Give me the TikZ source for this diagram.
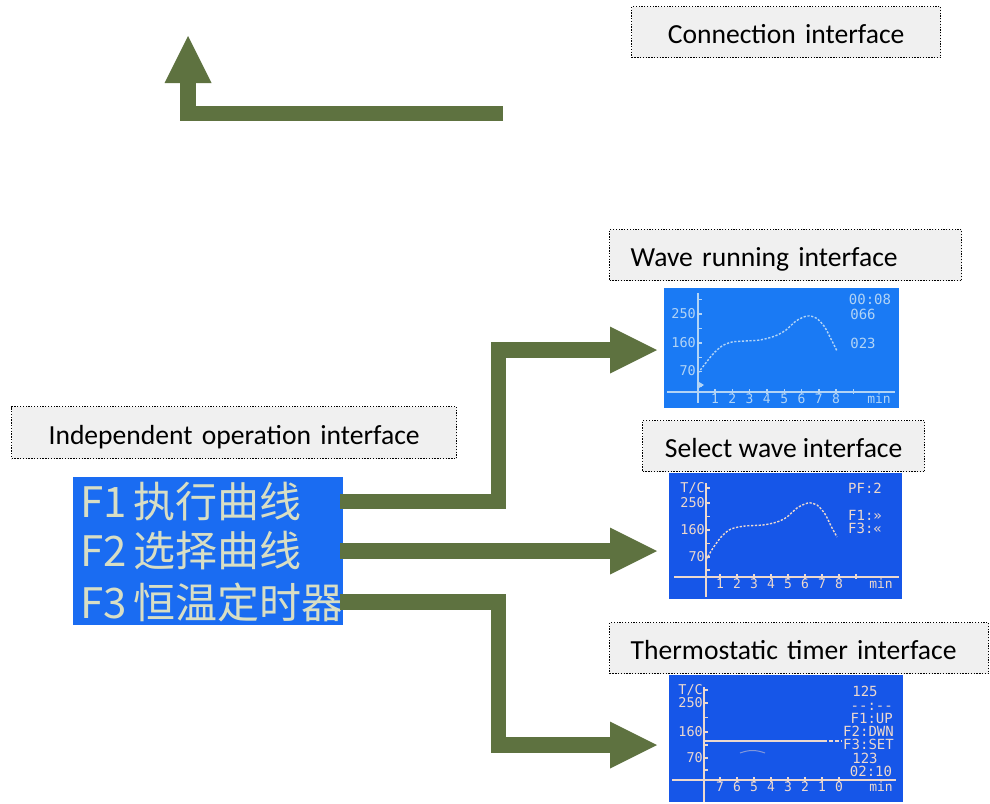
\documentclass[tikz,border=0pt]{standalone}
\usepackage{fontspec}
\setmainfont{Carlito}
\newfontfamily\lcdfont{DejaVu Sans Mono}
\newfontfamily\cjkfont{Noto Sans CJK SC}
\usetikzlibrary{arrows.meta,calc}
\definecolor{arrgreen}{RGB}{94,114,64}
\definecolor{boxgray}{RGB}{240,240,240}
\definecolor{lcdbgA}{RGB}{26,122,244}
\definecolor{lcdbgB}{RGB}{22,86,232}
\definecolor{lcdbgL}{RGB}{26,108,242}
\definecolor{lcdtxA}{RGB}{178,212,246}
\definecolor{lcdtxB}{RGB}{236,216,206}
\definecolor{lcdtxL}{RGB}{216,222,196}
\tikzset{
  tbox/.style={draw=black, line width=1.3pt, dash pattern=on 1.3pt off 1.5pt,
    fill=boxgray, font=\fontsize{27.6}{30}\selectfont, text height=23pt, text depth=0pt,
    inner ysep=0pt, inner xsep=21pt, anchor=north west},
  lcd/.style={draw=none, inner sep=0pt, anchor=north west},
  bigarrow/.style={draw=arrgreen, line width=15.5pt, line join=miter, line cap=butt,
    -{Triangle[width=47pt,length=47pt,line width=0pt]}},
  ax/.style={line width=1.4pt},
  curve/.style={line width=1.4pt, dash pattern=on 2.2pt off 1.6pt},
  ylab/.style={font=\lcdfont\fontsize{13.5}{14}\selectfont, anchor=east, inner sep=0pt, text height=9.5pt, text depth=0pt},
  xlab/.style={font=\lcdfont\fontsize{13}{13}\selectfont, inner sep=0pt, text height=9pt, text depth=0pt},
  rlab/.style={font=\lcdfont\fontsize{14}{14}\selectfont, inner sep=0pt, text height=10pt, text depth=0pt},
  cjkrow/.style={font=\cjkfont\fontsize{42}{44}\selectfont, text=lcdtxL, anchor=west, inner sep=0pt}
}
\begin{document}
\begin{tikzpicture}[x=1pt,y=-1pt]
\useasboundingbox (0,0) rectangle (990,803);

% ---------- text boxes ----------
\node[tbox, minimum height=51pt, text width=267pt, align=center] (conn) at (631,6) {Connection interface};
\node[tbox, minimum height=51pt, text width=310pt, align=left] (waveT) at (609,229) {Wave running interface};
\node[tbox, minimum height=51pt, minimum width=282pt, inner xsep=0pt] (selT) at (642,420) {Select wave interface};
\node[tbox, minimum height=51pt, text width=337pt, align=left] (thermT) at (609,622) {Thermostatic timer interface};
\node[tbox, minimum height=52pt, text width=403pt, align=center] (indT) at (11,406) {Independent operation interface};

% ---------- LCD screens ----------
\node[lcd, fill=lcdbgA, minimum width=235pt, minimum height=120pt] (lcdW) at (664,288) {};
\node[lcd, fill=lcdbgB, minimum width=233pt, minimum height=126pt] (lcdS) at (669,473) {};
\node[lcd, fill=lcdbgB, minimum width=234pt, minimum height=127pt] (lcdT) at (669,675) {};
\node[lcd, fill=lcdbgL, minimum width=270pt, minimum height=148pt] (lcdL) at (73,477) {};

% left LCD rows
\node[cjkrow] (f1) at (80,501.5) {F1\,执行曲线};
\node[cjkrow] (f2) at (80,551) {F2\,选择曲线};
\node[cjkrow] (f3) at (80,602) {F3\,恒温定时器};

% ---- wave running LCD ----
\draw[ax, lcdtxA] (698,293) -- (698,403) (667,392) -- (895,392);
\foreach \yy in {299.5,314,328.5,343,357.5,371.5,386} \draw[ax, lcdtxA] (698,\yy) -- (702,\yy);
\foreach \k in {1,...,9} \draw[ax, lcdtxA] ({697.7+17.3*\k},389) -- ++(0,5);
\foreach \k in {1,...,8} \node[xlab, text=lcdtxA] (wx\k) at ({697.7+17.3*\k},399) {\k};
\node[xlab, text=lcdtxA] (wmin) at (879,399) {min};
\node[ylab, text=lcdtxA] (w250) at (696,314) {250};
\node[ylab, text=lcdtxA] (w160) at (696,343) {160};
\node[ylab, text=lcdtxA] (w70) at (696,371) {70};
\node[rlab, text=lcdtxA] (wt) at (870,299) {00:08};
\node[rlab, text=lcdtxA] (wa) at (863,314) {066};
\node[rlab, text=lcdtxA] (wb) at (863,343) {023};
\fill[lcdtxA] (699,382) -- (704,385) -- (699,388) -- cycle;
\draw[curve, lcdtxA] plot[smooth] coordinates {(698,373) (705,364) (713,354) (722,346) (732,342) (745,341) (760,340) (775,336) (786,330) (796,321) (807,316) (816,318) (824,326) (830,337) (837,351)};

% ---- select wave LCD ----
\draw[ax, lcdtxB] (706,483) -- (706,597) (674,577) -- (899,577);
\foreach \yy in {488,503,516.5,530,543.5,557,570} \draw[ax, lcdtxB] (706,\yy) -- (710,\yy);
\foreach \k in {1,...,9} \draw[ax, lcdtxB] ({703+17*\k},574) -- ++(0,5);
\foreach \k in {1,...,8} \node[xlab, text=lcdtxB] (sx\k) at ({703+17*\k},584) {\k};
\node[xlab, text=lcdtxB] (smin) at (881,584) {min};
\node[ylab, text=lcdtxB] (sTC) at (705,488) {T/C};
\node[ylab, text=lcdtxB] (s250) at (705,503) {250};
\node[ylab, text=lcdtxB] (s160) at (705,530) {160};
\node[ylab, text=lcdtxB] (s70) at (705,557) {70};
\node[rlab, text=lcdtxB] (spf) at (865,488) {PF:2};
\node[rlab, text=lcdtxB] (sf1) at (865,515) {F1:»};
\node[rlab, text=lcdtxB] (sf3) at (865,528) {F3:«};
\draw[curve, lcdtxB] plot[smooth] coordinates {(706,560) (713,548) (722,536) (731,529) (745,526) (763,525) (777,522) (787,517) (797,508) (808,503) (817,505) (825,514) (831,526) (837,537)};

% ---- thermostatic timer LCD ----
\draw[ax, lcdtxB] (704,687) -- (704,802) (672,780) -- (896,780);
\foreach \yy in {690,703,717.5,732,745,758,770} \draw[ax, lcdtxB] (704,\yy) -- (708,\yy);
\foreach \k/\lab in {0/7,1/6,2/5,3/4,4/3,5/2,6/1,7/0} {
  \draw[ax, lcdtxB] ({720+17*\k},777) -- ++(0,5);
  \node[xlab, text=lcdtxB] (tx\k) at ({720+17*\k},787) {\lab};
}
\node[xlab, text=lcdtxB] (tmin) at (881,787) {min};
\node[ylab, text=lcdtxB] (tTC) at (703,690) {T/C};
\node[ylab, text=lcdtxB] (t250) at (703,703) {250};
\node[ylab, text=lcdtxB] (t160) at (703,732) {160};
\node[ylab, text=lcdtxB] (t70) at (703,758) {70};
\draw[ax, lcdtxB] (704,741) -- (827,741);
\draw[ax, lcdtxB, dash pattern=on 4pt off 2pt] (829,741) -- (842,741);
\draw[lcdtxB, opacity=0.5, line width=1pt] (740,753) to[bend left=20] (765,753);
\node[rlab, text=lcdtxB] (t125) at (865,691) {125};
\node[rlab, text=lcdtxB, anchor=east] (tdash) at (893,705) {-{}-:-{}-};
\node[rlab, text=lcdtxB, anchor=east] (tup) at (893,718) {F1:UP};
\node[rlab, text=lcdtxB, anchor=east] (tdwn) at (894,731) {F2:DWN};
\node[rlab, text=lcdtxB, anchor=east] (tset) at (894,744) {F3:SET};
\node[rlab, text=lcdtxB] (t123) at (865,758) {123};
\node[rlab, text=lcdtxB] (ttime) at (871,771) {02:10};

% ---------- arrows ----------
\coordinate (ts) at (503,113.5);
\coordinate (tt) at (188,36);
\coordinate (t1) at (657,350);
\coordinate (t2) at (657,551);
\coordinate (t3) at (657,745);
\draw[bigarrow] (ts) -| (tt);
\draw[bigarrow, shorten <=-3pt] (lcdL.east |- f1) -- (498.5,501.5) |- (t1);
\draw[bigarrow, shorten <=-3pt] (lcdL.east |- f2) -- (t2);
\draw[bigarrow, shorten <=-3pt] (lcdL.east |- f3) -- (498.5,602) |- (t3);
\end{tikzpicture}
\end{document}
